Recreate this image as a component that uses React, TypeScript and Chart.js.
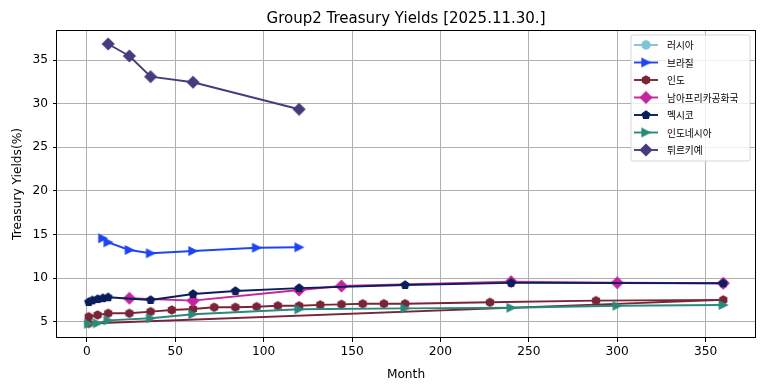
import React, { useEffect, useRef } from 'react';
import { Chart, registerables } from 'chart.js';

Chart.register(...registerables);

// ---- data ----
const seriesNames = ['러시아', '브라질', '인도', '남아프리카공화국', '멕시코', '인도네시아', '튀르키예'];
const seriesColors = ['#7fc3d9', '#1e44f5', '#7b2438', '#c4259e', '#0b1e5b', '#288a7a', '#463b7d'];
const seriesMarkers = ['circle', 'triangleRight', 'hexagon', 'diamond', 'pentagon', 'triangleRight', 'diamond'];

const russiaMonths: number[] = [];
const russiaYields: number[] = [];

const brazilMonths = [9, 12, 24, 36, 60, 96, 120];
const brazilYields = [14.56, 14.1, 13.22, 12.84, 13.1, 13.48, 13.53];

const indiaMonths = [1, 6, 12, 24, 36, 48, 60, 72, 84, 96, 108, 120, 132, 144, 156, 168, 180, 228, 288, 360, 1];
const indiaYields = [5.57, 5.77, 5.96, 5.96, 6.15, 6.34, 6.46, 6.65, 6.65, 6.72, 6.83, 6.82, 6.93, 6.99, 7.05, 7.06, 7.06, 7.22, 7.41, 7.5, 4.8];

const southAfricaMonths = [24, 60, 120, 144, 240, 300, 360];
const southAfricaYields = [7.68, 7.41, 8.63, 9.09, 9.59, 9.47, 9.4];

const mexicoMonths = [1, 3, 6, 9, 12, 36, 60, 84, 120, 180, 240, 360];
const mexicoYields = [7.25, 7.45, 7.6, 7.7, 7.8, 7.49, 8.18, 8.52, 8.85, 9.21, 9.45, 9.4];

const indonesiaMonths = [1, 6, 12, 36, 60, 120, 180, 240, 300, 360];
const indonesiaYields = [4.75, 4.82, 5.15, 5.39, 5.85, 6.42, 6.53, 6.6, 6.83, 6.91];

const turkeyMonths = [12, 24, 36, 60, 120];
const turkeyYields = [36.84, 35.46, 33.09, 32.45, 29.35];

const seriesMonths = [russiaMonths, brazilMonths, indiaMonths, southAfricaMonths, mexicoMonths, indonesiaMonths, turkeyMonths];
const seriesYields = [russiaYields, brazilYields, indiaYields, southAfricaYields, mexicoYields, indonesiaYields, turkeyYields];

const xTickValues = [0, 50, 100, 150, 200, 250, 300, 350];
const yTickValues = [5, 10, 15, 20, 25, 30, 35];

const titleText = 'Group2 Treasury Yields [2025.11.30.]';
const xAxisLabel = 'Month';
const yAxisLabel = 'Treasury Yields(%)';

// ---- styling helpers ----
const LATIN = '"DejaVu Sans", sans-serif';
const KOREAN = '"Noto Sans CJK KR", "DejaVu Sans", sans-serif';

function makeMarker(shape: string, color: string): HTMLCanvasElement {
  const s = 18;
  const c = document.createElement('canvas');
  c.width = s;
  c.height = s;
  const ctx = c.getContext('2d')!;
  const cx = s / 2;
  const cy = s / 2;
  const r = 4.0;
  ctx.beginPath();
  if (shape === 'circle') {
    ctx.arc(cx, cy, r, 0, Math.PI * 2);
  } else if (shape === 'diamond') {
    const d = r * Math.SQRT2;
    ctx.moveTo(cx, cy - d);
    ctx.lineTo(cx + d, cy);
    ctx.lineTo(cx, cy + d);
    ctx.lineTo(cx - d, cy);
    ctx.closePath();
  } else if (shape === 'triangleRight') {
    ctx.moveTo(cx + r, cy);
    ctx.lineTo(cx - r, cy - r);
    ctx.lineTo(cx - r, cy + r);
    ctx.closePath();
  } else {
    const n = shape === 'hexagon' ? 6 : 5;
    for (let k = 0; k < n; k++) {
      const a = -Math.PI / 2 + (k * 2 * Math.PI) / n;
      const px = cx + r * Math.cos(a);
      const py = cy + r * Math.sin(a);
      if (k === 0) ctx.moveTo(px, py);
      else ctx.lineTo(px, py);
    }
    ctx.closePath();
  }
  ctx.fillStyle = color;
  ctx.fill();
  ctx.lineWidth = 1.3;
  ctx.lineJoin = 'miter';
  ctx.strokeStyle = color;
  ctx.stroke();
  return c;
}

const framePlugin = {
  id: 'mplFrame',
  afterDatasetsDraw(chart: any) {
    const { ctx, chartArea: ca } = chart;
    ctx.save();
    ctx.strokeStyle = '#000';
    ctx.lineWidth = 1;
    ctx.strokeRect(Math.round(ca.left) - 0.5, Math.round(ca.top) + 0.5, Math.round(ca.right - ca.left) + 1, Math.round(ca.bottom - ca.top) - 1);
    ctx.restore();
  },
};

const titlePlugin = {
  id: 'mplTitle',
  afterDraw(chart: any) {
    const { ctx, chartArea: ca } = chart;
    ctx.save();
    ctx.font = `15px ${LATIN}`;
    ctx.fillStyle = '#000';
    ctx.textAlign = 'center';
    ctx.textBaseline = 'alphabetic';
    ctx.fillText(titleText, (ca.left + ca.right) / 2, 22.5);
    ctx.restore();
  },
};

const legendPlugin = {
  id: 'mplLegend',
  afterDraw(chart: any) {
    const { ctx, chartArea: ca } = chart;
    const datasets = chart.data.datasets;
    const w = 119;
    const rowH = 17.5;
    const h = 10 + rowH * (datasets.length - 1) + 11;
    const x0 = ca.right - 5 - w;
    const y0 = ca.top + 5;
    ctx.save();
    ctx.beginPath();
    const rr = 2;
    ctx.moveTo(x0 + rr, y0);
    ctx.lineTo(x0 + w - rr, y0);
    ctx.arcTo(x0 + w, y0, x0 + w, y0 + rr, rr);
    ctx.lineTo(x0 + w, y0 + h - rr);
    ctx.arcTo(x0 + w, y0 + h, x0 + w - rr, y0 + h, rr);
    ctx.lineTo(x0 + rr, y0 + h);
    ctx.arcTo(x0, y0 + h, x0, y0 + h - rr, rr);
    ctx.lineTo(x0, y0 + rr);
    ctx.arcTo(x0, y0, x0 + rr, y0, rr);
    ctx.closePath();
    ctx.fillStyle = 'rgba(255,255,255,0.8)';
    ctx.fill();
    ctx.strokeStyle = 'rgba(204,204,204,0.8)';
    ctx.lineWidth = 1;
    ctx.stroke();
    datasets.forEach((ds: any, i: number) => {
      const y = y0 + 10 + i * rowH;
      ctx.beginPath();
      ctx.moveTo(x0 + 3, y);
      ctx.lineTo(x0 + 27, y);
      ctx.strokeStyle = ds.borderColor;
      ctx.lineWidth = 1.9;
      ctx.stroke();
      const m = ds.pointStyle as HTMLCanvasElement;
      ctx.drawImage(m, x0 + 15 - m.width / 2, y - m.height / 2);
      ctx.font = `9.7px ${KOREAN}`;
      ctx.fillStyle = '#000';
      ctx.textAlign = 'left';
      ctx.textBaseline = 'middle';
      ctx.fillText(ds.label, x0 + 36, y + 0.5);
    });
    ctx.restore();
  },
};

export default function App() {
  const ref = useRef<HTMLCanvasElement>(null);

  useEffect(() => {
    const canvas = ref.current;
    if (!canvas) return;
    const n = seriesNames.length;
    const datasets = seriesNames.map((name, i) => ({
      label: name,
      data: seriesMonths[i].map((m, j) => ({ x: m, y: seriesYields[i][j] })),
      borderColor: seriesColors[i],
      backgroundColor: seriesColors[i],
      borderWidth: 1.9,
      borderJoinStyle: 'round' as const,
      pointStyle: makeMarker(seriesMarkers[i], seriesColors[i]),
      pointRadius: 5,
      pointHoverRadius: 5,
      showLine: true,
      fill: false,
      tension: 0,
      order: n - 1 - i,
    }));

    const tickFont = { family: LATIN, size: 12.2 };
    const chart = new Chart(canvas, {
      type: 'scatter',
      data: { datasets },
      plugins: [framePlugin, titlePlugin, legendPlugin],
      options: {
        responsive: false,
        animation: false,
        devicePixelRatio: 1,
        events: [],
        layout: { padding: { top: 30, right: 9, bottom: 0, left: 0 } },
        plugins: { legend: { display: false }, tooltip: { enabled: false }, title: { display: false } },
        scales: {
          x: {
            type: 'linear',
            position: 'bottom',
            min: -16.95,
            max: 377.95,
            afterBuildTicks: (scale: any) => {
              scale.ticks = xTickValues.map((v) => ({ value: v }));
            },
            afterFit: (scale: any) => {
              scale.height = 53;
            },
            ticks: { font: tickFont, color: '#000', padding: 3, maxRotation: 0, autoSkip: false },
            grid: { color: '#b0b0b0', lineWidth: 1, drawTicks: true, tickLength: 4, tickColor: '#000', tickWidth: 1 },
            border: { display: false },
            title: { display: true, text: xAxisLabel, font: { family: LATIN, size: 12.2 }, color: '#000', padding: { top: 0, bottom: 9 } },
          },
          y: {
            type: 'linear',
            position: 'left',
            min: 3.13,
            max: 38.44,
            afterBuildTicks: (scale: any) => {
              scale.ticks = yTickValues.map((v) => ({ value: v }));
            },
            afterFit: (scale: any) => {
              scale.width = 57;
            },
            ticks: { font: tickFont, color: '#000', padding: 5, autoSkip: false },
            grid: { color: '#b0b0b0', lineWidth: 1, drawTicks: true, tickLength: 4, tickColor: '#000', tickWidth: 1 },
            border: { display: false },
            title: { display: true, text: yAxisLabel, font: { family: LATIN, size: 12.2 }, color: '#000', padding: { top: 10.5, bottom: 0 } },
          },
        },
      } as any,
    });
    return () => chart.destroy();
  }, []);

  return (
    <div style={{ position: 'absolute', left: 0, top: 0, width: 764, height: 391, background: '#fff' }}>
      <canvas ref={ref} width={764} height={391} style={{ display: 'block', width: 764, height: 391 }} />
    </div>
  );
}
